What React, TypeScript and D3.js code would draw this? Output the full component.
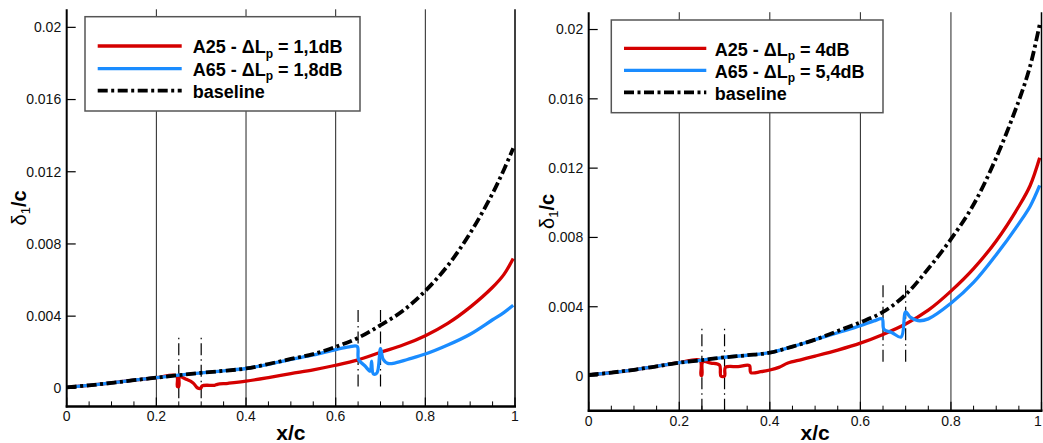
import React from "react";
import * as d3 from "d3";

type Pt = [number, number];

// ---------- axis ticks ----------
const X_TICKS = [0, 0.2, 0.4, 0.6, 0.8, 1];
const X_TICK_LABELS = ["0", "0.2", "0.4", "0.6", "0.8", "1"];
const X_MINOR = [0.05, 0.1, 0.15, 0.25, 0.3, 0.35, 0.45, 0.5, 0.55, 0.65, 0.7, 0.75, 0.85, 0.9, 0.95];
const X_GRID = [0.2, 0.4, 0.6, 0.8];
const Y_TICKS = [0, 0.004, 0.008, 0.012, 0.016, 0.02];
const Y_TICK_LABELS = ["0", "0.004", "0.008", "0.012", "0.016", "0.02"];

// ---------- left case: displacement thickness delta1/c vs x/c ----------
const LEFT_BASELINE: Pt[] = [
  [0, 0.00005], [0.05, 0.00017], [0.1, 0.0003], [0.15, 0.00045], [0.2, 0.00059],
  [0.25, 0.00073], [0.3, 0.00086], [0.35, 0.00097], [0.4, 0.0011], [0.45, 0.00135],
  [0.5, 0.00163], [0.55, 0.0019], [0.6, 0.0023], [0.65, 0.0028], [0.7, 0.0035],
  [0.75, 0.0043], [0.8, 0.0054], [0.85, 0.0068], [0.9, 0.0086], [0.95, 0.0108],
  [0.975, 0.0121], [0.996, 0.0133],
];
const LEFT_A25: Pt[] = [
  [0, 0.00005], [0.05, 0.00017], [0.1, 0.0003], [0.15, 0.00045], [0.2, 0.00059],
  [0.245, 0.0007], [0.247, 0.0001], [0.25, 0.0001], [0.252, 0.00064], [0.265, 0.00052],
  [0.282, 0.0003], [0.292, 0.00002], [0.299, 0.0], [0.302, 0.00014], [0.33, 0.00017],
  [0.336, 0.00022], [0.36, 0.00028], [0.4, 0.0004], [0.45, 0.0006], [0.5, 0.00082],
  [0.55, 0.00103], [0.6, 0.00128], [0.65, 0.00158], [0.7, 0.002], [0.75, 0.0024],
  [0.8, 0.00292], [0.85, 0.0036], [0.9, 0.0045], [0.95, 0.0056], [0.975, 0.0063],
  [0.996, 0.0072],
];
const LEFT_A65: Pt[] = [
  [0, 0.00005], [0.05, 0.00017], [0.1, 0.0003], [0.15, 0.00045], [0.2, 0.00059],
  [0.25, 0.00073], [0.3, 0.00086], [0.35, 0.00097], [0.4, 0.0011], [0.45, 0.00133],
  [0.5, 0.0016], [0.55, 0.00185], [0.6, 0.00215], [0.63, 0.0023], [0.648, 0.00232],
  [0.651, 0.0016], [0.665, 0.00125], [0.677, 0.00095], [0.68, 0.0015], [0.684, 0.0008],
  [0.692, 0.00085], [0.7, 0.0022], [0.706, 0.0016], [0.716, 0.00138], [0.735, 0.00142],
  [0.76, 0.0016], [0.8, 0.0019], [0.85, 0.0024], [0.9, 0.003], [0.95, 0.0038],
  [0.975, 0.0042], [0.996, 0.0046],
];
// trip positions: x/c, lower and upper value of the marker line
const LEFT_TRIPS: [number, number, number][] = [
  [0.25, -0.00055, 0.0028], [0.3, -0.00055, 0.0028],
  [0.65, 0.0001, 0.00445], [0.7, 0.0001, 0.00445],
];
const LEFT_LEGEND = [
  { pre: "A25 - \u0394L", sub: "p", post: " = 1,1dB" },
  { pre: "A65 - \u0394L", sub: "p", post: " = 1,8dB" },
  { pre: "baseline", sub: "", post: "" },
];

// ---------- right case ----------
const RIGHT_BASELINE: Pt[] = [
  [0, 0.00006], [0.05, 0.0002], [0.1, 0.00036], [0.15, 0.00056], [0.2, 0.00077],
  [0.25, 0.00092], [0.3, 0.00108], [0.35, 0.0012], [0.4, 0.00135], [0.45, 0.0017],
  [0.5, 0.0021], [0.55, 0.0026], [0.6, 0.0031], [0.65, 0.0037], [0.7, 0.0047],
  [0.75, 0.0062], [0.8, 0.0079], [0.85, 0.0099], [0.9, 0.0126], [0.95, 0.0159],
  [0.975, 0.0179], [0.996, 0.0203],
];
const RIGHT_A25: Pt[] = [
  [0, 0.00006], [0.05, 0.0002], [0.1, 0.00036], [0.15, 0.00056], [0.2, 0.00077],
  [0.246, 0.0009], [0.248, 0.00005], [0.25, 0.00005], [0.252, 0.00082], [0.27, 0.00075],
  [0.289, 0.00063], [0.292, 0.0], [0.3, 0.0], [0.302, 0.0005], [0.33, 0.00054],
  [0.355, 0.0006], [0.358, 0.0002], [0.38, 0.00025], [0.4, 0.00035], [0.42, 0.0005],
  [0.44, 0.00075], [0.47, 0.00095], [0.5, 0.00115], [0.55, 0.0015], [0.6, 0.0019],
  [0.65, 0.0024], [0.7, 0.003], [0.75, 0.0038], [0.8, 0.0049], [0.85, 0.0062],
  [0.9, 0.0078], [0.95, 0.0098], [0.975, 0.011], [0.996, 0.0126],
];
const RIGHT_A65: Pt[] = [
  [0, 0.00006], [0.05, 0.0002], [0.1, 0.00036], [0.15, 0.00056], [0.2, 0.00077],
  [0.25, 0.00092], [0.3, 0.00108], [0.35, 0.0012], [0.4, 0.00135], [0.45, 0.0017],
  [0.5, 0.0021], [0.55, 0.0025], [0.6, 0.0029], [0.63, 0.00318], [0.648, 0.0033],
  [0.652, 0.0027], [0.67, 0.0025], [0.69, 0.00225], [0.7, 0.0037], [0.71, 0.0034],
  [0.727, 0.0032], [0.75, 0.0033], [0.8, 0.0042], [0.85, 0.0054], [0.9, 0.007],
  [0.95, 0.0088], [0.975, 0.0098], [0.996, 0.011],
];
const RIGHT_TRIPS: [number, number, number][] = [
  [0.25, -0.002, 0.00283], [0.3, -0.002, 0.00283],
  [0.65, 0.00083, 0.00525], [0.7, 0.00083, 0.00525],
];
const RIGHT_LEGEND = [
  { pre: "A25 - \u0394L", sub: "p", post: " = 4dB" },
  { pre: "A65 - \u0394L", sub: "p", post: " = 5,4dB" },
  { pre: "baseline", sub: "", post: "" },
];

// ---------- styling ----------
const RED = "#d40000";
const BLUE = "#1a8cff";
const FONT = "'Liberation Sans', Arial, Helvetica, sans-serif";

interface Layout {
  x0: number; x1: number; yTop: number; yBot: number; yMin: number; yMax: number;
  legX: number; legY: number; legW: number; legH: number;
  lineX0: number; lineX1: number; textX: number; rowY: number[];
  yTitleX: number;
}

const LEFT_LAYOUT: Layout = {
  x0: 66.7, x1: 515, yTop: 9.3, yBot: 406.4, yMin: -0.001, yMax: 0.021,
  legX: 85, legY: 16.7, legW: 275, legH: 94.3,
  lineX0: 97.7, lineX1: 181.7, textX: 192.7, rowY: [46, 68.7, 90.7],
  yTitleX: 26,
};
const RIGHT_LAYOUT: Layout = {
  x0: 588.7, x1: 1041.5, yTop: 12.2, yBot: 410.7, yMin: -0.002, yMax: 0.021,
  legX: 611.3, legY: 20, legW: 271.7, legH: 92.7,
  lineX0: 624, lineX1: 706.3, textX: 714.7, rowY: [48.3, 70.3, 92.3],
  yTitleX: 554,
};

const BASE_DASH = "10,3.5,3,3.5";
const TRIP_DASH = "12,4,1.5,4";
const SVG_W = 1043;

function Panel({ L, base, a25, a65, trips, legend, id }: {
  L: Layout; base: Pt[]; a25: Pt[]; a65: Pt[];
  trips: [number, number, number][];
  legend: { pre: string; sub: string; post: string }[]; id: string;
}) {
  const x = d3.scaleLinear().domain([0, 1]).range([L.x0, L.x1]);
  const y = d3.scaleLinear().domain([L.yMin, L.yMax]).range([L.yBot, L.yTop]);
  const line = d3.line<Pt>()
    .x((d) => x(d[0]))
    .y((d) => y(d[1]))
    .curve(d3.curveCatmullRom.alpha(0.5));
  const series = [
    { data: a25, color: RED, dash: undefined as string | undefined, w: 3.3 },
    { data: a65, color: BLUE, dash: undefined as string | undefined, w: 3.3 },
    { data: base, color: "#000", dash: BASE_DASH, w: 3.8 },
  ];
  const clipId = `clip-${id}`;
  return (
    <g>
      <defs>
        <clipPath id={clipId}>
          <rect x={L.x0} y={L.yTop} width={L.x1 - L.x0} height={L.yBot - L.yTop} />
        </clipPath>
      </defs>
      {/* vertical grid lines */}
      {X_GRID.map((v) => (
        <line key={`g${v}`} x1={x(v)} x2={x(v)} y1={L.yTop} y2={L.yBot} stroke="#222" strokeWidth={1} />
      ))}
      {/* trip markers */}
      {trips.map((t, i) => (
        <line key={`t${i}`} x1={x(t[0])} x2={x(t[0])} y1={y(t[1])} y2={y(t[2])}
          stroke="#000" strokeWidth={1.2} strokeDasharray={TRIP_DASH} />
      ))}
      {/* curves */}
      <g clipPath={`url(#${clipId})`}>
        {series.map((s, i) => (
          <path key={`s${i}`} d={line(s.data) || ""} fill="none" stroke={s.color}
            strokeWidth={s.w} strokeDasharray={s.dash} strokeLinejoin="round" />
        ))}
      </g>
      {/* legend */}
      <rect x={L.legX} y={L.legY} width={L.legW} height={L.legH} fill="#fff" stroke="#555" strokeWidth={1.5} />
      {legend.map((e, i) => (
        <g key={`l${i}`}>
          <line x1={L.lineX0} x2={L.lineX1} y1={L.rowY[i]} y2={L.rowY[i]}
            stroke={series[i].color} strokeWidth={series[i].w} strokeDasharray={series[i].dash} />
          <text x={L.textX} y={L.rowY[i] + 7.2} fontFamily={FONT} fontWeight="bold" fontSize={18}
            style={{ whiteSpace: "pre" }}>
            <tspan>{e.pre}</tspan>
            {e.sub && <tspan dy={4.5} fontSize={12}>{e.sub}</tspan>}
            {e.post && <tspan dy={-4.5}>{e.post}</tspan>}
          </text>
        </g>
      ))}
      {/* axes */}
      <line x1={L.x0} x2={L.x0} y1={L.yTop} y2={L.yBot + 1} stroke="#000" strokeWidth={2} />
      <line x1={L.x1} x2={L.x1} y1={L.yTop} y2={L.yBot} stroke="#000" strokeWidth={1.5} />
      <line x1={L.x0 - 1} x2={L.x1 + 1} y1={L.yBot} y2={L.yBot} stroke="#000" strokeWidth={2.5} />
      {X_MINOR.map((v) => (
        <line key={`m${v}`} x1={x(v)} x2={x(v)} y1={L.yBot} y2={L.yBot - 5} stroke="#000" strokeWidth={1} />
      ))}
      {X_TICKS.map((v, i) => (
        <g key={`x${v}`}>
          <line x1={x(v)} x2={x(v)} y1={L.yBot} y2={L.yBot - 9} stroke="#000" strokeWidth={1.2} />
          <text x={Math.min(x(v), SVG_W - 5)} y={L.yBot + 15} textAnchor="middle" fontFamily={FONT}
            fontSize={14} fill="#111">
            {X_TICK_LABELS[i]}
          </text>
        </g>
      ))}
      {Y_TICKS.map((v, i) => (
        <g key={`y${v}`}>
          <line x1={L.x0} x2={L.x0 + 9} y1={y(v)} y2={y(v)} stroke="#000" strokeWidth={1.2} />
          <text x={L.x0 - 5.5} y={y(v)} dy="0.35em" textAnchor="end" fontFamily={FONT} fontSize={14} fill="#111">
            {Y_TICK_LABELS[i]}
          </text>
        </g>
      ))}
      {/* axis titles */}
      <text x={(L.x0 + L.x1) / 2} y={440} textAnchor="middle" fontFamily={FONT} fontWeight="bold" fontSize={21}>
        x/c
      </text>
      <text transform={`translate(${L.yTitleX},${(L.yTop + L.yBot) / 2}) rotate(-90)`} textAnchor="middle"
        fontFamily={FONT} fontSize={20}>
        <tspan>{"\u03b4"}</tspan>
        <tspan dy={4} fontSize={13}>1</tspan>
        <tspan dy={-4} fontWeight="bold">/c</tspan>
      </text>
    </g>
  );
}

export default function App() {
  return (
    <div style={{ position: "absolute", left: 0, top: 0 }}>
      <svg width={SVG_W} height={443} viewBox={`0 0 ${SVG_W} 443`} style={{ display: "block", background: "#fff" }}>
        <rect width={SVG_W} height={443} fill="#fff" />
        <Panel id="left" L={LEFT_LAYOUT} base={LEFT_BASELINE} a25={LEFT_A25} a65={LEFT_A65}
          trips={LEFT_TRIPS} legend={LEFT_LEGEND} />
        <Panel id="right" L={RIGHT_LAYOUT} base={RIGHT_BASELINE} a25={RIGHT_A25} a65={RIGHT_A65}
          trips={RIGHT_TRIPS} legend={RIGHT_LEGEND} />
      </svg>
    </div>
  );
}
